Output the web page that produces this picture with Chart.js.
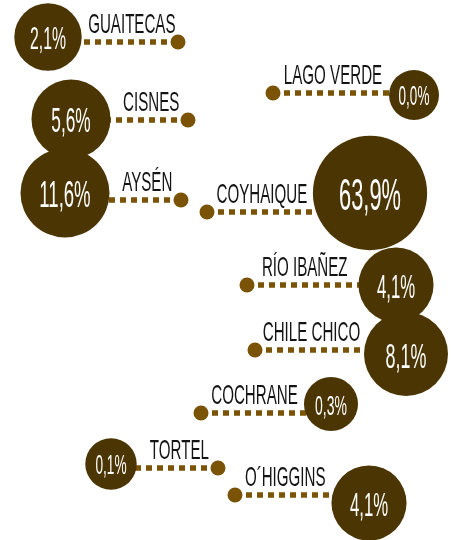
<!DOCTYPE html>
<html>
<head>
<meta charset="utf-8">
<script src="https://cdn.jsdelivr.net/npm/chart.js@4"></script>
<style>
  body { margin: 0; background: #fff; }
  #wrap { width: 454px; height: 540px; position: relative; }
</style>
</head>
<body>
<div id="wrap"><canvas id="mapChart"></canvas></div>
<script>
// comunas de la región de Aysén y su participación (%)
const communes = ["GUAITECAS", "CISNES", "AYSÉN", "COYHAIQUE", "LAGO VERDE", "RÍO IBAÑEZ", "CHILE CHICO", "COCHRANE", "TORTEL", "O´HIGGINS"];
const shares = [2.1, 5.6, 11.6, 63.9, 0.0, 4.1, 8.1, 0.3, 0.1, 4.1];

// ubicación en el "mapa" (unidades de la escala)
const bubbleX = [48, 71, 65, 370, 414, 396, 406, 331, 111, 369];
const bubbleY = [37, 119, 193, 193, 95, 285, 354, 404, 464, 503];
const dotX = [178, 188, 181, 207, 273, 247, 255, 201, 218, 235];
const dotY = [42, 120, 200, 212, 93, 285, 350, 413, 468, 495];

const DARK = "#4b3502";
const LIGHT = "#7a5306";

function radiusFor(v) {
  return 25 + 7.7 * Math.log(1 + v);
}

function fmt(v) {
  return v.toFixed(1).replace(".", ",") + "%";
}

const lineSets = communes.map((name, i) => ({
  type: "line",
  label: name,
  data: [{ x: dotX[i], y: dotY[i] }, { x: bubbleX[i], y: dotY[i] }],
  borderColor: LIGHT,
  borderWidth: 5.5,
  borderDash: [6, 5],
  borderCapStyle: "butt",
  pointRadius: [7.5, 0],
  pointBackgroundColor: LIGHT,
  pointBorderWidth: 0,
  clip: false,
  order: 2
}));

const bubbleSet = {
  type: "bubble",
  label: "share",
  data: communes.map((n, i) => ({ x: bubbleX[i], y: bubbleY[i], r: radiusFor(shares[i]) })),
  backgroundColor: DARK,
  borderWidth: 0,
  clip: false,
  order: 1
};

function drawSqueezed(ctx, text, x, y, sx) {
  ctx.save();
  ctx.translate(x, y);
  ctx.scale(sx, 1);
  ctx.fillText(text, 0, 0);
  ctx.restore();
}

const textPlugin = {
  id: "mapText",
  afterDatasetsDraw(chart) {
    const ctx = chart.ctx;
    const xs = chart.scales.x, ys = chart.scales.y;
    ctx.save();
    ctx.textAlign = "center";
    ctx.textBaseline = "alphabetic";
    communes.forEach((name, i) => {
      const r = radiusFor(shares[i]);
      // porcentaje dentro del círculo
      const fs = 14 + 0.52 * r;
      ctx.font = `${fs}px "Liberation Sans", Arial, sans-serif`;
      ctx.fillStyle = "#fff";
      drawSqueezed(ctx, fmt(shares[i]), xs.getPixelForValue(bubbleX[i]), ys.getPixelForValue(bubbleY[i]) + 0.38 * fs, 0.5);

      // nombre sobre la línea punteada
      const edge = dotX[i] > bubbleX[i] ? bubbleX[i] + r : bubbleX[i] - r;
      const cx = xs.getPixelForValue((dotX[i] + edge) / 2) + 2;
      const base = ys.getPixelForValue(dotY[i]) - 9;
      ctx.font = `28px "Liberation Sans", Arial, sans-serif`;
      ctx.fillStyle = "#141414";
      drawSqueezed(ctx, name, cx, base, 0.54);
    });
    ctx.restore();
  }
};

new Chart(document.getElementById("mapChart"), {
  data: { datasets: [...lineSets, bubbleSet] },
  options: {
    responsive: true,
    maintainAspectRatio: false,
    animation: false,
    layout: { padding: 0, autoPadding: false },
    scales: {
      x: { type: "linear", min: 0, max: 454, display: false },
      y: { type: "linear", min: 0, max: 540, reverse: true, display: false }
    },
    plugins: {
      legend: { display: false },
      tooltip: { enabled: false }
    }
  },
  plugins: [textPlugin]
});
</script>
</body>
</html>
